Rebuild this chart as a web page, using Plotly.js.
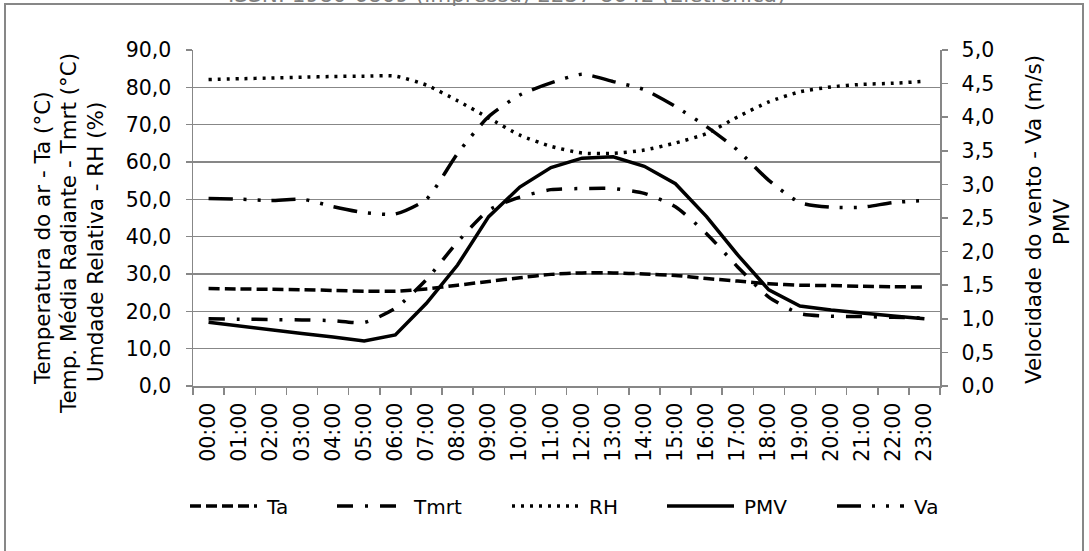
<!DOCTYPE html>
<html>
<head>
<meta charset="utf-8">
<script src="https://cdn.plot.ly/plotly-3.0.1.min.js"></script>
<style>
  html, body { margin: 0; padding: 0; background: #fff; }
  #chart { width: 1089px; height: 551px; }
</style>
</head>
<body>
<div id="chart"></div>
<script>
// ---- data ----
const hours = ["00:00","01:00","02:00","03:00","04:00","05:00","06:00","07:00","08:00","09:00","10:00","11:00",
               "12:00","13:00","14:00","15:00","16:00","17:00","18:00","19:00","20:00","21:00","22:00","23:00"];
const ta   = [26.1, 26.0, 25.9, 25.8, 25.6, 25.4, 25.4, 26.0, 27.0, 28.0, 29.0, 29.9,
              30.3, 30.3, 30.0, 29.6, 28.8, 28.1, 27.4, 27.0, 26.9, 26.7, 26.6, 26.5];
const tmrt = [18.0, 17.9, 17.8, 17.7, 17.5, 17.0, 20.8, 28.5, 38.6, 47.1, 50.6, 52.6,
              52.9, 52.9, 51.6, 48.0, 40.8, 31.9, 23.8, 19.4, 18.7, 18.6, 18.4, 18.2];
const rh   = [82.1, 82.3, 82.5, 82.7, 82.9, 83.0, 83.0, 80.6, 76.4, 71.8, 67.2, 64.2,
              62.4, 62.3, 63.2, 65.1, 67.6, 72.1, 76.1, 78.8, 80.1, 80.8, 81.1, 81.6];
const pmv  = [0.95, 0.89, 0.84, 0.78, 0.73, 0.67, 0.76, 1.23, 1.80, 2.52, 2.96, 3.25,
              3.39, 3.41, 3.27, 3.01, 2.52, 1.95, 1.43, 1.19, 1.13, 1.08, 1.04, 1.00];
const va   = [2.79, 2.78, 2.76, 2.78, 2.67, 2.58, 2.56, 2.78, 3.46, 4.01, 4.33, 4.51,
              4.64, 4.53, 4.41, 4.16, 3.86, 3.51, 3.06, 2.73, 2.66, 2.66, 2.73, 2.76];
const seriesNames = ["Ta", "Tmrt", "RH", "PMV", "Va"];
const leftTitle = ["Temperatura do ar - Ta (°C)", "Temp. Média Radiante - Tmrt (°C)", "Umdade Relativa - RH (%)"];
const rightTitle = ["Velocidade do vento - Va (m/s)", "PMV"];
const headerText = "ISSN: 1980-6809 (impressa) 2237-8642 (Eletrônica)";

// ---- layout geometry (pixels) ----
const W = 1089, H = 551;
const L = 193, R = 940, T = 50, B = 386;
const pw = R - L, ph = B - T;
const px = x => (x - L) / pw;
const py = y => (B - y) / ph;

const FONT = "DejaVu Sans, Verdana, sans-serif";
const GRID = "#878787";
const TITLE_SIZE = 21.5;

function tr(y, name, dash, axis, shape) {
  return {
    x: hours, y: y, name: name, type: "scatter", mode: "lines", yaxis: axis,
    line: { color: "#000", width: 3.5, dash: dash, shape: shape, smoothing: 0.6 },
    hoverinfo: "skip"
  };
}

const data = [
  tr(ta,   seriesNames[0], "11px,5px", "y", "spline"),
  tr(tmrt, seriesNames[1], "16px,12px,3px,12px", "y", "spline"),
  tr(rh,   seriesNames[2], "3px,6px", "y", "spline"),
  tr(pmv,  seriesNames[3], "solid", "y2", "linear"),
  tr(va,   seriesNames[4], "24px,11px,3px,11px,3px,11px", "y2", "spline")
];

function titleLine(text, xPix, yPix) {
  return { text: text, xref: "paper", yref: "paper", x: px(xPix), y: py(yPix),
    xanchor: "center", yanchor: "middle", showarrow: false, textangle: -90,
    font: { family: FONT, size: TITLE_SIZE, color: "#000" } };
}

const layout = {
  width: W, height: H,
  margin: { l: L, r: W - R, t: T, b: H - B, pad: 0 },
  paper_bgcolor: "#fff", plot_bgcolor: "#fff",
  separators: ", ",
  font: { family: FONT, size: 20, color: "#000" },
  showlegend: true,
  legend: {
    orientation: "h", x: px(562), xanchor: "center", y: py(506), yanchor: "middle",
    font: { family: FONT, size: 20, color: "#000" }, itemwidth: 72,
    bgcolor: "rgba(0,0,0,0)", traceorder: "normal", itemclick: false
  },
  xaxis: {
    type: "category", range: [-0.5, 23.5], showgrid: false, zeroline: false,
    showline: true, linecolor: GRID, linewidth: 1.5,
    ticks: "outside", ticklen: 7, tickcolor: GRID, tickwidth: 1.5, tickson: "boundaries",
    tickangle: -90, tickfont: { family: FONT, size: 20.5, color: "#000" }, ticklabelstandoff: 7,
    fixedrange: true
  },
  yaxis: {
    range: [0, 90], dtick: 10, tick0: 0, tickformat: ".1f",
    showgrid: true, gridcolor: GRID, gridwidth: 1.6, zeroline: false,
    showline: true, linecolor: GRID, linewidth: 1.5,
    ticks: "outside", ticklen: 6, tickcolor: GRID, tickwidth: 1.5,
    tickfont: { family: FONT, size: 20.5, color: "#000" }, ticklabelstandoff: 10,
    fixedrange: true
  },
  yaxis2: {
    overlaying: "y", side: "right", range: [0, 5], dtick: 0.5, tick0: 0, tickformat: ".1f",
    showgrid: false, zeroline: false,
    showline: true, linecolor: GRID, linewidth: 1.5,
    ticks: "outside", ticklen: 6, tickcolor: GRID, tickwidth: 1.5,
    tickfont: { family: FONT, size: 20.5, color: "#000" }, ticklabelstandoff: 10,
    fixedrange: true
  },
  shapes: [{
    type: "rect", xref: "paper", yref: "paper",
    x0: px(5), x1: px(1083), y0: py(560), y1: py(4),
    line: { color: GRID, width: 2 }, fillcolor: "rgba(0,0,0,0)", layer: "below"
  }],
  annotations: [
    { text: headerText, xref: "paper", yref: "paper", x: px(506), y: py(-5),
      xanchor: "center", yanchor: "middle", showarrow: false,
      font: { family: FONT, size: 21.5, color: "#7f7f7f" } },
    titleLine(leftTitle[0], 42, 238),
    titleLine(leftTitle[1], 68, 234),
    titleLine(leftTitle[2], 95, 242),
    titleLine(rightTitle[0], 1033, 220),
    titleLine(rightTitle[1], 1061, 222)
  ]
};

Plotly.newPlot("chart", data, layout, { staticPlot: true, displayModeBar: false }).then(gd => {
  // longer legend line samples and reference spacing of legend entries
  const targets = [190, 337, 512, 667, 837];
  const svgLeft = gd.querySelector(".main-svg").getBoundingClientRect().left;
  const sb = gd.querySelector(".legend .scrollbox");
  if (sb) sb.removeAttribute("clip-path");
  gd.querySelectorAll(".legend .traces").forEach((g, i) => {
    const paths = g.querySelectorAll(".legendlines path");
    paths.forEach(p => p.setAttribute("d", "M5,0h67"));
    if (!paths.length || targets[i] === undefined) return;
    const cur = paths[0].getBoundingClientRect().left - svgLeft;
    const m = /translate\(\s*([-\d.e]+)[\s,]+([-\d.e]+)\s*\)/.exec(g.getAttribute("transform") || "");
    if (!m) return;
    g.setAttribute("transform", "translate(" + (parseFloat(m[1]) + targets[i] - cur) + "," + m[2] + ")");
  });
});
</script>
</body>
</html>
